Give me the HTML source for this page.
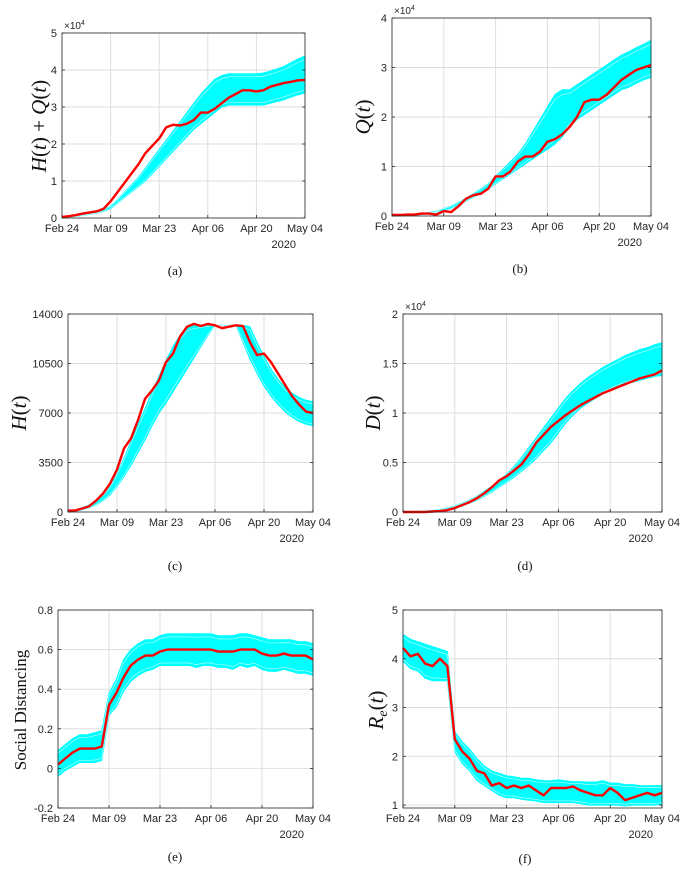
<!DOCTYPE html>
<html><head><meta charset="utf-8"><style>
html,body{margin:0;padding:0;background:#fff;}
svg{display:block;}
text{font-family:"Liberation Sans",sans-serif;fill:#262626;}
.lab{font-family:"Liberation Serif",serif;fill:#111;}
</style></head><body>
<svg id="fig" width="687" height="870" viewBox="0 0 687 870" xmlns="http://www.w3.org/2000/svg"></svg>
<script>
// shared x axis
const days=[0,2,4,6,8,10,12,14,16,18,20,22,24,26,28,30,32,34,36,38,40,42,44,46,48,50,52,54,56,58,60,62,64,66,68,70];
const xTickDays=[0,14,28,42,56,70];
const xTickLabels=["Feb 24","Mar 09","Mar 23","Apr 06","Apr 20","May 04"];
// (a) H+Q (x1e4)
const aRed=[.03,.05,.08,.12,.15,.18,.25,.45,.7,.95,1.2,1.45,1.75,1.95,2.15,2.45,2.52,2.5,2.55,2.65,2.85,2.85,2.95,3.1,3.25,3.35,3.45,3.45,3.42,3.45,3.55,3.6,3.65,3.68,3.72,3.73];
const aLo=[0,.02,.04,.07,.1,.13,.18,.25,.4,.55,.7,.85,1.0,1.2,1.4,1.6,1.8,2.0,2.2,2.4,2.55,2.7,2.85,3.0,3.05,3.05,3.05,3.05,3.05,3.05,3.1,3.15,3.2,3.27,3.33,3.38];
const aHi=[.03,.05,.08,.11,.14,.18,.23,.32,.5,.7,.9,1.1,1.35,1.6,1.85,2.1,2.35,2.6,2.85,3.1,3.35,3.55,3.75,3.85,3.9,3.9,3.9,3.9,3.9,3.92,3.97,4.03,4.1,4.2,4.3,4.38];
const aTicks=[0,1,2,3,4,5];
// (b) Q (x1e4)
const bRed=[.02,.02,.03,.03,.05,.05,.03,.1,.08,.2,.35,.42,.45,.55,.8,.8,.9,1.1,1.2,1.2,1.3,1.5,1.55,1.65,1.8,2.0,2.3,2.35,2.35,2.45,2.6,2.75,2.85,2.95,3.0,3.05];
const bLo=[0,0,.01,.02,.03,.05,.08,.1,.15,.22,.3,.38,.45,.55,.65,.75,.85,.95,1.05,1.15,1.25,1.35,1.45,1.6,1.8,1.95,2.05,2.15,2.25,2.35,2.45,2.55,2.6,2.68,2.75,2.8];
const bHi=[.02,.02,.03,.04,.05,.07,.1,.15,.2,.28,.36,.45,.55,.65,.8,.95,1.1,1.25,1.45,1.7,1.95,2.2,2.45,2.55,2.55,2.65,2.75,2.85,2.95,3.05,3.15,3.25,3.32,3.4,3.47,3.55];
const bTicks=[0,1,2,3,4];
// (c) H
const cRed=[100,100,250,400,800,1300,2000,3000,4500,5200,6500,8000,8600,9300,10600,11200,12400,13100,13300,13150,13300,13200,13000,13100,13200,13150,12000,11100,11200,10600,9800,9000,8200,7600,7100,7000];
const cLo=[0,50,150,300,500,800,1200,1800,2500,3300,4200,5100,6100,7000,7700,8500,9300,10100,10900,11700,12500,13200,13200,13200,13200,12000,10800,9800,8900,8200,7600,7100,6700,6400,6200,6100];
const cHi=[100,150,300,500,800,1200,1800,2700,3800,5000,6200,7300,8500,9600,10700,11700,12500,13100,13200,13200,13200,13200,13200,13200,13200,13200,13100,12000,11000,10100,9400,8800,8400,8100,7900,7800];
const cTicks=[0,3500,7000,10500,14000];
// (d) D (x1e4)
const dRed=[0,0,0,0,.005,.01,.02,.04,.07,.1,.14,.19,.25,.32,.36,.42,.48,.58,.7,.78,.86,.92,.98,1.03,1.08,1.12,1.16,1.2,1.23,1.26,1.29,1.32,1.35,1.37,1.39,1.43];
const dLo=[0,0,0,0,.005,.01,.02,.04,.06,.09,.12,.16,.2,.25,.3,.35,.41,.47,.54,.62,.7,.8,.9,.98,1.05,1.1,1.15,1.19,1.23,1.26,1.29,1.31,1.33,1.35,1.37,1.38];
const dHi=[0,0,.005,.01,.015,.025,.04,.06,.09,.12,.16,.21,.26,.32,.38,.46,.55,.65,.75,.85,.95,1.05,1.15,1.23,1.3,1.36,1.41,1.46,1.5,1.54,1.58,1.61,1.64,1.66,1.69,1.71];
const dTicks=[0,0.5,1,1.5,2];
// (e) social distancing
const eRed=[.02,.05,.08,.1,.1,.1,.11,.32,.38,.46,.52,.55,.57,.57,.59,.6,.6,.6,.6,.6,.6,.6,.59,.59,.59,.6,.6,.6,.58,.57,.57,.58,.57,.57,.57,.55];
const eLo=[-.04,-.01,.01,.03,.03,.03,.04,.27,.31,.39,.44,.47,.49,.5,.52,.52,.52,.52,.52,.51,.52,.52,.51,.51,.5,.52,.51,.52,.5,.49,.49,.5,.49,.48,.48,.47];
const eHi=[.09,.12,.15,.17,.17,.18,.19,.38,.45,.55,.6,.63,.65,.65,.67,.68,.68,.68,.68,.68,.68,.68,.67,.67,.67,.68,.68,.67,.66,.65,.65,.65,.65,.64,.64,.63];
const eTicks=[-0.2,0,0.2,0.4,0.6,0.8];
// (f) Re
const fRed=[4.22,4.05,4.1,3.9,3.85,4.0,3.85,2.35,2.1,1.95,1.7,1.65,1.4,1.45,1.35,1.4,1.35,1.4,1.3,1.2,1.35,1.35,1.35,1.38,1.3,1.25,1.2,1.2,1.35,1.25,1.1,1.15,1.2,1.25,1.2,1.25];
const fLo=[3.95,3.8,3.75,3.6,3.55,3.55,3.55,2.1,1.85,1.7,1.5,1.4,1.3,1.2,1.15,1.15,1.12,1.1,1.08,1.05,1.05,1.05,1.05,1.05,1.03,1.0,1.0,1.0,1.0,1.0,0.98,1.0,1.0,1.0,1.0,1.02];
const fHi=[4.5,4.4,4.35,4.3,4.25,4.2,4.15,2.5,2.3,2.15,1.95,1.8,1.7,1.65,1.6,1.58,1.55,1.55,1.52,1.5,1.5,1.52,1.5,1.48,1.48,1.47,1.47,1.5,1.45,1.45,1.42,1.42,1.4,1.4,1.4,1.4];
const fTicks=[1,2,3,4,5];

const NS="http://www.w3.org/2000/svg";
const svg=document.getElementById('fig');
function mk(tag,attrs,parent){const e=document.createElementNS(NS,tag);for(const k in attrs)e.setAttribute(k,attrs[k]);(parent||svg).appendChild(e);return e;}

function panel(p){
  const g=mk('g',{});
  
  
  const xs=d=>p.x0+(d-0)/70*(p.x1-p.x0);
  const ys=v=>p.y1-(v-p.ymin)/(p.ymax-p.ymin)*(p.y1-p.y0);
  // grid
  xTickDays.forEach(d=>{const l=mk('line',{x1:xs(d),x2:xs(d),y1:p.y0,y2:p.y1,stroke:'#dedede','stroke-width':1},g);
    });
  p.ticks.forEach(v=>{const l=mk('line',{x1:p.x0,x2:p.x1,y1:ys(v),y2:ys(v),stroke:'#dedede','stroke-width':1},g);
    });
  // band
  let pts=days.map((d,i)=>xs(d)+','+ys(p.hi[i])).concat(days.map((d,i)=>xs(d)+','+ys(p.lo[i])).reverse());
  const band=mk('polygon',{points:pts.join(' '),fill:'#00ffff',stroke:'#00ffff','stroke-width':1},g);
  
  [0.08,0.9].forEach(f=>{
    const l=mk('polyline',{points:days.map((d,i)=>xs(d)+','+ys(p.lo[i]+f*(p.hi[i]-p.lo[i]))).join(' '),fill:'none',stroke:'#c8ffff','stroke-width':0.6},g);
    
  });
  // red
  const r=mk('polyline',{points:days.map((d,i)=>xs(d)+','+ys(p.red[i])).join(' '),fill:'none',stroke:'#ff0000','stroke-width':2.4,'stroke-linejoin':'round'},g);
  
  // box
  const b=mk('rect',{x:p.x0,y:p.y0,width:p.x1-p.x0,height:p.y1-p.y0,fill:'none',stroke:'#262626','stroke-width':0.8},g);
  
  // ticks & labels
  p.ticks.forEach((v,i)=>{
    mk('line',{x1:p.x0,x2:p.x0+3,y1:ys(v),y2:ys(v),stroke:'#262626','stroke-width':0.8},g);
    mk('line',{x1:p.x1,x2:p.x1-3,y1:ys(v),y2:ys(v),stroke:'#262626','stroke-width':0.8},g);
    const t=mk('text',{x:p.x0-5,y:ys(v)+4,'text-anchor':'end','font-size':11},g);
    t.textContent=p.tickLabels[i];
    
  });
  xTickDays.forEach((d,i)=>{
    mk('line',{x1:xs(d),x2:xs(d),y1:p.y1,y2:p.y1-3,stroke:'#262626','stroke-width':0.8},g);
    const t=mk('text',{x:xs(d),y:p.y1+14,'text-anchor':'middle','font-size':11},g);
    t.textContent=xTickLabels[i];
    
  });
  const yr=mk('text',{x:p.x1-9,y:p.y1+30,'text-anchor':'end','font-size':11},g);
  yr.textContent='2020';
  
  if(p.exp){const e=mk('text',{x:p.x0+2,y:p.y0-4,'font-size':10},g);
    e.innerHTML='×10<tspan dy="-4" font-size="7">4</tspan>';
    }
  const yl=mk('text',{x:p.lx,y:p.ly,'text-anchor':'middle','font-size':p.lfs||21,class:'lab',transform:`rotate(-90 ${p.lx} ${p.ly})`},g);
  yl.innerHTML=p.ylabel;
  
  const cap=mk('text',{x:p.cx,y:p.cy,'text-anchor':'middle','font-size':13,class:'lab'},g);
  cap.textContent=p.cap;
  
}
const it=s=>`<tspan font-style="italic">${s}</tspan>`;
panel({name:'panel-a',x0:62,x1:305,y0:33,y1:218,ymin:0,ymax:5,ticks:aTicks,tickLabels:aTicks.map(String),red:aRed,lo:aLo,hi:aHi,exp:true,
  ylabel:`${it('H')}(${it('t')}) + ${it('Q')}(${it('t')})`,lx:46,ly:126,cap:'(a)',cx:175,cy:275});
panel({name:'panel-b',x0:392,x1:651,y0:18,y1:216,ymin:0,ymax:4,ticks:bTicks,tickLabels:bTicks.map(String),red:bRed,lo:bLo,hi:bHi,exp:true,
  ylabel:`${it('Q')}(${it('t')})`,lx:370,ly:117,cap:'(b)',cx:520,cy:273});
panel({name:'panel-c',x0:68,x1:313,y0:314,y1:512,ymin:0,ymax:14000,ticks:cTicks,tickLabels:cTicks.map(String),red:cRed,lo:cLo,hi:cHi,exp:false,
  ylabel:`${it('H')}(${it('t')})`,lx:26,ly:413,cap:'(c)',cx:175,cy:570});
panel({name:'panel-d',x0:403,x1:662,y0:314,y1:512,ymin:0,ymax:2,ticks:dTicks,tickLabels:['0','0.5','1','1.5','2'],red:dRed,lo:dLo,hi:dHi,exp:true,
  ylabel:`${it('D')}(${it('t')})`,lx:380,ly:413,cap:'(d)',cx:525,cy:570});
panel({name:'panel-e',x0:58,x1:313,y0:610,y1:808,ymin:-0.2,ymax:0.8,ticks:eTicks,tickLabels:['-0.2','0','0.2','0.4','0.6','0.8'],red:eRed,lo:eLo,hi:eHi,exp:false,
  ylabel:'Social Distancing',lfs:17,lx:26,ly:710,cap:'(e)',cx:175,cy:861});
panel({name:'panel-f',x0:403,x1:662,y0:610,y1:808,ymin:0.94,ymax:5,ticks:fTicks,tickLabels:fTicks.map(String),red:fRed,lo:fLo,hi:fHi,exp:false,
  ylabel:`${it('R')}<tspan font-style="italic" font-size="14" dy="4">e</tspan><tspan dy="-4">(</tspan>${it('t')})`,lx:383,ly:710,cap:'(f)',cx:525,cy:863});
</script>
</body></html>
